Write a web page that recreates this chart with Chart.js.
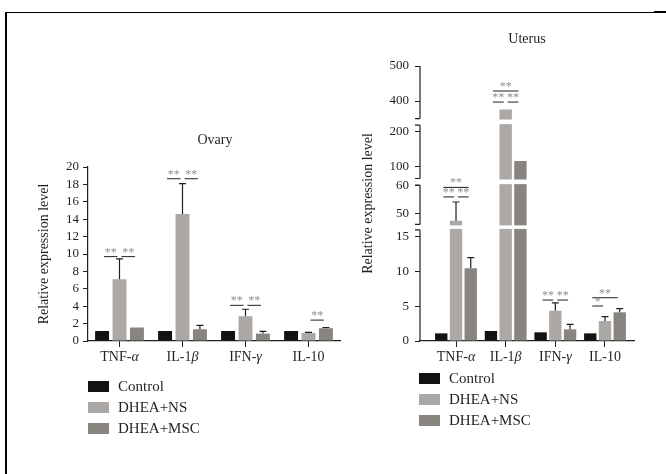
<!DOCTYPE html>
<html>
<head>
<meta charset="utf-8">
<script src="https://cdn.jsdelivr.net/npm/chart.js@4.4.0/dist/chart.umd.min.js"></script>
<style>
  body { margin: 0; background: #fff; }
  #page { position: relative; width: 666px; height: 474px; overflow: hidden;
          font-family: "Liberation Serif", serif; color: #231f20; }
  canvas { position: absolute; top: 0; }
  .line { position: absolute; background: #000; }
  .title { position: absolute; width: 120px; text-align: center; font-size: 14px; line-height: 16px; }
  .leg { position: absolute; font-size: 15px; }
  .leg div { height: 21px; display: flex; align-items: center; }
  .leg span.sw { display: inline-block; width: 21px; height: 11px; margin-right: 9px; }
</style>
</head>
<body>
<div id="page">
  <div class="line" style="left:5px;top:12px;width:661px;height:1px"></div>
  <div class="line" style="left:654px;top:11px;width:12px;height:2px"></div>
  <div class="line" style="left:5px;top:12px;width:2px;height:462px"></div>

  <canvas id="ovary" width="350" height="474" style="left:0"></canvas>
  <canvas id="uterus" width="316" height="474" style="left:350px"></canvas>

  <div class="title" style="left:155px;top:132px">Ovary</div>
  <div class="title" style="left:467px;top:31px">Uterus</div>

  <div class="leg" id="legOvary" style="left:88px;top:376px"></div>
  <div class="leg" id="legUterus" style="left:419px;top:368px"></div>
</div>
<script>
const categories = ['TNF-α', 'IL-1β', 'IFN-γ', 'IL-10'];
const seriesNames = ['Control', 'DHEA+NS', 'DHEA+MSC'];
const seriesColors = ['#151311', '#aca8a5', '#88847f'];

// ovary
const ovaryControl = [1.15, 1.15, 1.15, 1.15];
const ovaryNS = [7.1, 14.6, 2.85, 0.92];
const ovaryMSC = [1.55, 1.35, 0.85, 1.47];
const ovaryNSErr = [9.45, 18.1, 3.65, 0.98];
const ovaryMSCErr = [null, 1.8, 1.1, 1.55];
// [category, from series, to series, level, stars]
const ovarySig = [
  [0, 0, 1, 9.7, '**'], [0, 1, 2, 9.7, '**'],
  [1, 0, 1, 18.65, '**'], [1, 1, 2, 18.65, '**'],
  [2, 0, 1, 4.1, '**'], [2, 1, 2, 4.1, '**'],
  [3, 1, 2, 2.4, '**']
];

// uterus
const uterusControl = [1.1, 1.44, 1.25, 1.1];
const uterusNS = [47.3, 375.7, 4.36, 2.88];
const uterusMSC = [10.46, 117, 1.68, 4.13];
const uterusNSErr = [54, null, 5.5, 3.5];
const uterusMSCErr = [12.0, null, 2.4, 4.65];
const uterusTicks = [0, 5, 10, 15, 50, 60, 100, 200, 400, 500];
const uterusSig = [
  [0, 0, 2, 59.2, '**'], [0, 0, 1, 55.8, '**'], [0, 1, 2, 55.8, '**'],
  [1, 0, 2, 428.6, '**'], [1, 0, 1, 397, '**'], [1, 1, 2, 397, '**'],
  [2, 0, 1, 5.9, '**'], [2, 1, 2, 5.9, '**'],
  [3, 0, 2, 6.23, '**'], [3, 0, 1, 5.04, '*']
];

// axis break segments: value from, value to, height fraction from, to
const axisBreaks = [
  [0, 16, 0, 0.404],
  [46, 60, 0.424, 0.5667],
  [67, 219, 0.591, 0.785],
  [350, 500, 0.809, 1]
];

const ink = '#231f20';
const serif = 'Liberation Serif';

class BrokenScale extends Chart.LinearScale {
  getPixelForValue(value) {
    if (value === null || value === undefined) return NaN;
    let f = 0;
    const b = axisBreaks;
    if (value <= b[0][0]) f = b[0][2];
    else if (value >= b[b.length - 1][1]) f = b[b.length - 1][3];
    else {
      for (let k = 0; k < b.length; k++) {
        const s = b[k];
        if (value >= s[0] && value <= s[1]) {
          f = s[2] + (value - s[0]) / (s[1] - s[0]) * (s[3] - s[2]);
          break;
        }
        const n = b[k + 1];
        if (n && value > s[1] && value < n[0]) {
          f = s[3] + (value - s[1]) / (n[0] - s[1]) * (n[2] - s[3]);
          break;
        }
      }
    }
    return this.bottom - f * (this.bottom - this.top);
  }
}
BrokenScale.id = 'broken';
BrokenScale.defaults = {};
Chart.register(BrokenScale);

function fracPixel(scale, f) {
  return scale.bottom - f * (scale.bottom - scale.top);
}

function makeExtras(cfg) {
  return {
    id: 'extras',
    afterDatasetsDraw(chart) {
      const ctx = chart.ctx, y = chart.scales.y, area = chart.chartArea;
      ctx.save();
      if (cfg.breaks) {
        ctx.fillStyle = '#fff';
        for (let k = 0; k < cfg.breaks.length - 1; k++) {
          const lower = fracPixel(y, cfg.breaks[k][3]);
          const upper = fracPixel(y, cfg.breaks[k + 1][2]);
          ctx.fillRect(area.left + 1, upper + 1, area.right - area.left, lower - upper - 2);
        }
      }
      // error bars
      ctx.strokeStyle = ink;
      ctx.lineWidth = 1.2;
      cfg.errs.forEach((errArr, di) => {
        if (!errArr) return;
        const meta = chart.getDatasetMeta(di);
        errArr.forEach((e, i) => {
          if (e == null) return;
          const bar = meta.data[i];
          const top = y.getPixelForValue(e);
          ctx.beginPath();
          ctx.moveTo(bar.x, bar.y);
          ctx.lineTo(bar.x, top);
          ctx.moveTo(bar.x - 3.5, top);
          ctx.lineTo(bar.x + 3.5, top);
          ctx.stroke();
        });
      });
      // significance marks
      ctx.lineWidth = 1;
      ctx.font = '12px "' + serif + '"';
      ctx.textAlign = 'center';
      ctx.textBaseline = 'alphabetic';
      cfg.sig.forEach(([cat, from, to, level, stars]) => {
        const x1 = chart.getDatasetMeta(from).data[cat].x + 2;
        const x2 = chart.getDatasetMeta(to).data[cat].x - 2;
        const py = y.getPixelForValue(level);
        ctx.strokeStyle = ink;
        ctx.beginPath();
        ctx.moveTo(x1, py);
        ctx.lineTo(x2, py);
        ctx.stroke();
        ctx.fillStyle = '#8a8f99';
        ctx.fillText(stars, (x1 + x2) / 2, py - 1);
      });
      ctx.restore();
    },
    afterDraw(chart) {
      const ctx = chart.ctx, x = chart.scales.x, y = chart.scales.y, area = chart.chartArea;
      ctx.save();
      // category labels, greek letter in italics
      ctx.fillStyle = ink;
      ctx.textBaseline = 'top';
      ctx.textAlign = 'left';
      const normal = '14px "' + serif + '"';
      const italic = 'italic 14px "' + serif + '"';
      categories.forEach((lab, i) => {
        const px = x.getPixelForTick(i);
        const greek = /[α-ω]$/.test(lab) ? lab.slice(-1) : '';
        const base = greek ? lab.slice(0, -1) : lab;
        ctx.font = normal;
        const wb = ctx.measureText(base).width;
        ctx.font = italic;
        const wg = greek ? ctx.measureText(greek).width : 0;
        const sx = px - (wb + wg) / 2;
        ctx.font = normal;
        ctx.fillText(base, sx, area.bottom + 9);
        if (greek) {
          ctx.font = italic;
          ctx.fillText(greek, sx + wb, area.bottom + 9);
        }
      });
      // broken y axis
      if (cfg.breaks) {
        ctx.strokeStyle = ink;
        ctx.lineWidth = 1.2;
        const x0 = area.left;
        cfg.breaks.forEach((s, k) => {
          const pLo = fracPixel(y, s[2]);
          const pHi = fracPixel(y, s[3]);
          ctx.beginPath();
          ctx.moveTo(x0, pLo);
          ctx.lineTo(x0, pHi);
          if (k > 0) { ctx.moveTo(x0 - 5, pLo); ctx.lineTo(x0, pLo); }
          if (k < cfg.breaks.length - 1) { ctx.moveTo(x0 - 5, pHi); ctx.lineTo(x0, pHi); }
          ctx.stroke();
        });
      }
      ctx.restore();
    }
  };
}

function datasets(values, asPoints) {
  return values.map((vals, i) => ({
    label: seriesNames[i],
    data: asPoints ? vals.map((v, j) => ({ x: j, y: v })) : vals,
    backgroundColor: seriesColors[i],
    borderWidth: 0
  }));
}

const yTitle = (padTop) => ({
  display: true,
  text: 'Relative expression level',
  color: ink,
  font: { family: serif, size: 14 },
  padding: { top: padTop, bottom: 0 }
});

new Chart(document.getElementById('ovary'), {
  type: 'bar',
  data: { labels: categories, datasets: datasets([ovaryControl, ovaryNS, ovaryMSC], false) },
  options: {
    responsive: false,
    animation: false,
    layout: { padding: { left: 30, top: 167, right: 10, bottom: 103 } },
    plugins: { legend: { display: false }, tooltip: { enabled: false } },
    datasets: { bar: { categoryPercentage: 0.83, barPercentage: 0.8 } },
    scales: {
      x: {
        offset: true,
        grid: { offset: false, drawOnChartArea: false, tickLength: 6, color: ink },
        border: { color: ink, width: 1.2 },
        ticks: { display: false },
        afterFit: s => { s.height = 30; }
      },
      y: {
        min: 0, max: 20,
        ticks: { stepSize: 2, autoSkip: false, padding: 4, color: ink, font: { family: serif, size: 13 } },
        grid: { drawOnChartArea: false, tickLength: 5, color: ink },
        border: { color: ink, width: 1.2 },
        title: yTitle(5.6),
        afterFit: s => { s.width = 58; }
      }
    }
  },
  plugins: [makeExtras({ errs: [null, ovaryNSErr, ovaryMSCErr], sig: ovarySig })]
});

new Chart(document.getElementById('uterus'), {
  type: 'bar',
  data: { datasets: datasets([uterusControl, uterusNS, uterusMSC], true) },
  options: {
    responsive: false,
    animation: false,
    layout: { padding: { left: 5, top: 66, right: 32, bottom: 103 } },
    plugins: { legend: { display: false }, tooltip: { enabled: false } },
    datasets: { bar: { categoryPercentage: 0.89, barPercentage: 0.84 } },
    scales: {
      x: {
        type: 'linear',
        min: -0.725, max: 3.584,
        offset: false,
        afterBuildTicks: s => { s.ticks = categories.map((c, i) => ({ value: i })); },
        grid: { offset: false, drawOnChartArea: false, tickLength: 6, color: ink },
        border: { color: ink, width: 1.2 },
        ticks: { display: false },
        afterFit: s => { s.height = 30; }
      },
      y: {
        type: 'broken',
        min: 0, max: 500,
        afterBuildTicks: s => { s.ticks = uterusTicks.map(v => ({ value: v })); },
        ticks: { autoSkip: false, padding: 6, color: ink, font: { family: serif, size: 13 }, callback: v => v },
        grid: { drawOnChartArea: false, tickLength: 5, color: ink },
        border: { display: false },
        title: yTitle(4.6),
        afterFit: s => { s.width = 65; }
      }
    }
  },
  plugins: [makeExtras({ errs: [null, uterusNSErr, uterusMSCErr], sig: uterusSig, breaks: axisBreaks })]
});

// legends
['legOvary', 'legUterus'].forEach(id => {
  const el = document.getElementById(id);
  seriesNames.forEach((name, i) => {
    const row = document.createElement('div');
    const sw = document.createElement('span');
    sw.className = 'sw';
    sw.style.background = seriesColors[i];
    row.appendChild(sw);
    row.appendChild(document.createTextNode(name));
    el.appendChild(row);
  });
});
</script>
</body>
</html>
